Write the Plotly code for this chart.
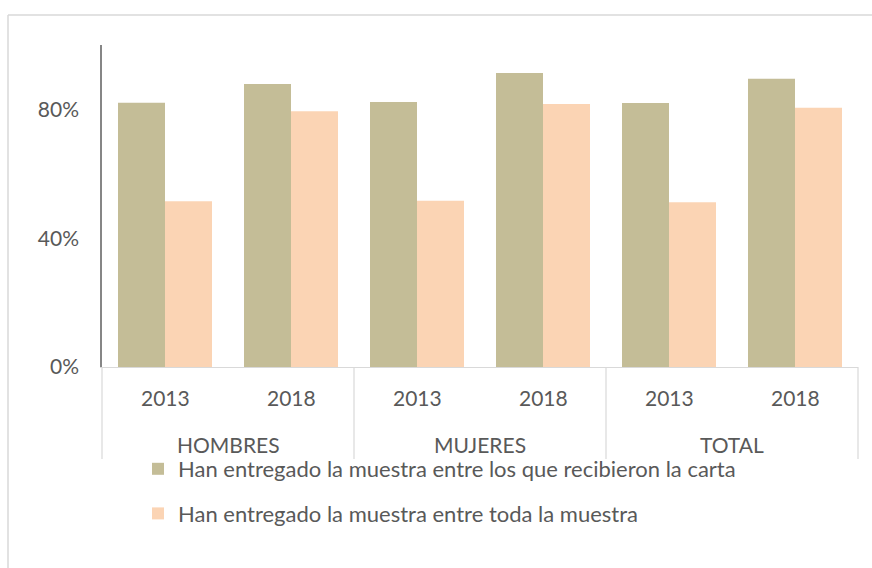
import plotly.graph_objects as go

groups = ["HOMBRES", "HOMBRES", "MUJERES", "MUJERES", "TOTAL", "TOTAL"]
years = ["2013", "2018", "2013", "2018", "2013", "2018"]
series1_name = "Han entregado la muestra entre los que recibieron la carta"
series2_name = "Han entregado la muestra entre toda la muestra"
series1 = [82.1, 87.9, 82.3, 91.3, 82.0, 89.5]
series2 = [51.5, 79.4, 51.6, 81.7, 51.2, 80.5]
ytick_vals = [0, 40, 80]
ytick_text = ["0%", "40%", "80%"]

W, H = 872, 568
L, R, T, B = 102, 14, 45, 201
pw, ph = W - L - R, H - T - B

def px_x(x):
    return (x - L) / pw

def px_y(y):
    return (H - B - y) / ph

font = dict(family="Lato, Open Sans, sans-serif", size=21, color="#595959")
legend_font = dict(family="Lato, Open Sans, sans-serif", size=22, color="#595959")
grey_line = "#D9D9D9"

fig = go.Figure()
fig.add_trace(go.Bar(x=[groups, years], y=series1, name=series1_name,
                     marker=dict(color="#C4BD97", line=dict(width=0)),
                     legendgroup="a"))
fig.add_trace(go.Bar(x=[groups, years], y=series2, name=series2_name,
                     marker=dict(color="#FBD4B4", line=dict(width=0)),
                     legendgroup="b"))

n = len(years)
annotations = []
for i, yr in enumerate(years):
    annotations.append(dict(x=(i + 0.5) / n, y=px_y(397), xref="paper", yref="paper",
                            text=yr, showarrow=False, font=font,
                            xanchor="center", yanchor="middle"))
unique_groups = []
for g in groups:
    if g not in unique_groups:
        unique_groups.append(g)
shapes = []
start = 0
for g in unique_groups:
    cnt = groups.count(g)
    annotations.append(dict(x=(start + cnt / 2) / n, y=px_y(444), xref="paper", yref="paper",
                            text=g, showarrow=False, font=font,
                            xanchor="center", yanchor="middle"))
    shapes.append(dict(type="line", xref="paper", yref="paper",
                       x0=start / n, x1=start / n, y0=0, y1=px_y(459),
                       line=dict(color=grey_line, width=1.2)))
    start += cnt
shapes.append(dict(type="line", xref="paper", yref="paper",
                   x0=1, x1=1, y0=0, y1=px_y(459),
                   line=dict(color=grey_line, width=1.2)))
# outer chart border (top and left edges visible)
shapes.append(dict(type="line", xref="paper", yref="paper",
                   x0=px_x(8), x1=px_x(880), y0=px_y(15), y1=px_y(15),
                   line=dict(color=grey_line, width=1.5)))
shapes.append(dict(type="line", xref="paper", yref="paper",
                   x0=px_x(8), x1=px_x(8), y0=px_y(15), y1=px_y(580),
                   line=dict(color=grey_line, width=1.5)))

fig.update_layout(
    width=W, height=H,
    margin=dict(l=L, r=R, t=T, b=B, autoexpand=False),
    paper_bgcolor="white", plot_bgcolor="white",
    font=font,
    barmode="group", bargap=0.254, bargroupgap=0,
    showlegend=True,
    legend=dict(x=px_x(138), y=px_y(448), xanchor="left", yanchor="top",
                orientation="v", tracegroupgap=13, font=legend_font,
                bgcolor="rgba(0,0,0,0)"),
    xaxis=dict(type="multicategory", showline=True, linecolor=grey_line,
               linewidth=1.2, showgrid=False, ticks="", showdividers=False,
               showticklabels=False, zeroline=False),
    yaxis=dict(range=[0, 100], tickvals=ytick_vals, ticktext=ytick_text,
               showline=True, linecolor="#868686", linewidth=1.5,
               showgrid=False, zeroline=False, ticks="", tickfont=font,
               ticklabelstandoff=17),
    annotations=annotations,
    shapes=shapes,
)

fig.write_html("out.html", config={"displayModeBar": False},
               post_script="document.body.style.margin='0';document.body.style.overflow='hidden';")
